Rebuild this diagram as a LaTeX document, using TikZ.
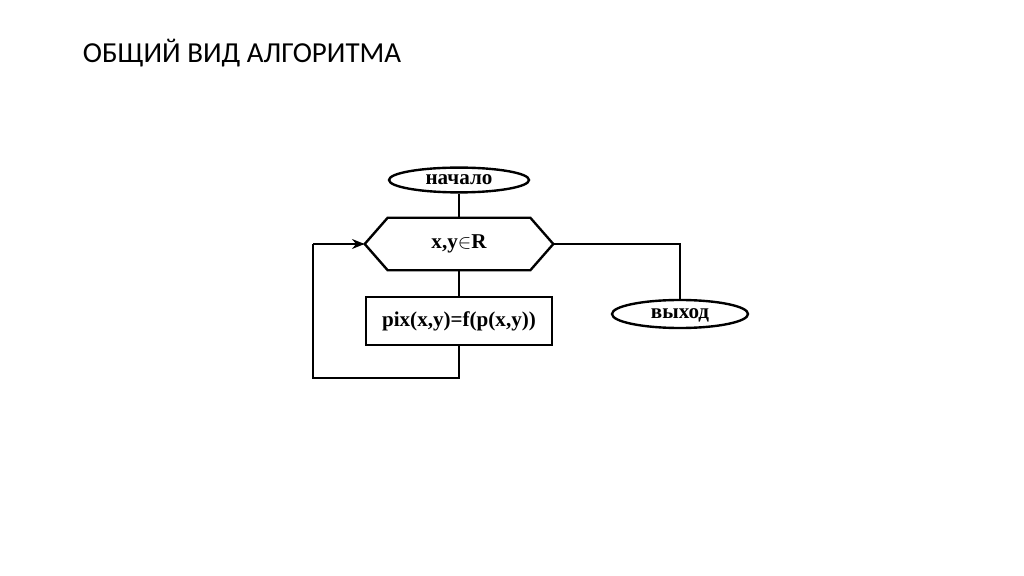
\documentclass[tikz,border=0pt]{standalone}
\usepackage{fontspec}
\setmainfont{Liberation Serif}
\newfontfamily\titlefont{Carlito}
\usetikzlibrary{arrows.meta,shapes.geometric}

\tikzset{
  term/.style = {draw, ellipse, line width=1.7pt, inner sep=0pt,
                 font=\bfseries\fontsize{15}{17}\selectfont},
  block/.style = {draw, rectangle, line width=1.7pt, inner sep=0pt,
                  font=\bfseries\fontsize{15}{17}\selectfont},
  flow/.style = {line width=1.7pt},
}

\begin{document}
\begin{tikzpicture}[x=0.025cm, y=-0.025cm]
            \useasboundingbox (0, 0) rectangle (1024, 576);

            \node[anchor=west, font=\titlefont\fontsize{20.6}{23}\selectfont] (title) at (78, 53) {ОБЩИЙ ВИД АЛГОРИТМА};

            \node[term, minimum width=3.5cm, minimum height=0.62cm] (start) at (459, 180) {начало};
            \node[inner sep=0pt, minimum width=4.7cm, minimum height=1.3cm,
                  font=\bfseries\fontsize{15}{17}\selectfont] (cond) at (459, 244) {x,y$\in$R};
            \draw[flow] (cond.west) -- ([xshift=23*0.025cm]cond.north west)
                -- ([xshift=-23*0.025cm]cond.north east) -- (cond.east)
                -- ([xshift=-23*0.025cm]cond.south east)
                -- ([xshift=23*0.025cm]cond.south west) -- cycle;
            \node[block, minimum width=4.65cm, minimum height=1.2cm] (calc) at (459, 321) {pix(x,y)=f(p(x,y))};
            \node[term, minimum width=3.4cm, minimum height=0.7cm, text depth=0.1ex] (exit) at (680, 314) {выход};

            \coordinate (loopA) at (459, 378);
            \coordinate (loopB) at (313, 378);
            \coordinate (loopC) at (313, 244);
            \coordinate (outA) at (680, 244);

            \draw[flow] (start) -- (cond);
            \draw[flow] (cond) -- (calc);
            \draw[flow] (calc) -- (loopA) -- (loopB) -- (loopC);
            \draw[flow, -{Stealth[length=9pt, width=7pt]}] (loopC) -- (cond.west);
            \draw[flow] (cond.east) -- (outA) -- (exit.north);
        \end{tikzpicture}
\end{document}
